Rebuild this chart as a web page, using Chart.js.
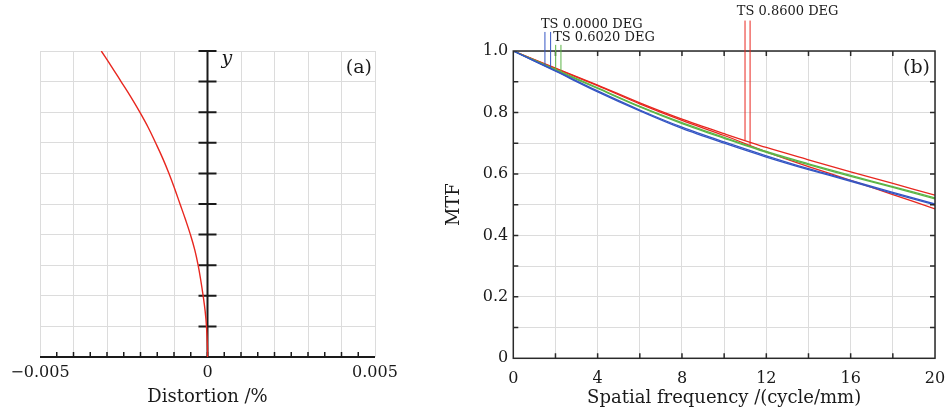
<!DOCTYPE html>
<html>
<head>
<meta charset="utf-8">
<script src="https://cdn.jsdelivr.net/npm/chart.js@4"></script>
<style>
  body { margin: 0; background: #fff; width: 949px; height: 415px; position: relative; overflow: hidden; }
  #distChart { position: absolute; left: 0; top: 0; }
  #mtfChart { position: absolute; left: 420px; top: 0; }
</style>
</head>
<body>
<canvas id="distChart" width="420" height="415"></canvas>
<canvas id="mtfChart" width="529" height="415"></canvas>
<script>
// (a) distortion vs normalised field height
const fieldY = [0, 0.03, 0.1, 0.15, 0.2, 0.25, 0.3, 0.35, 0.4, 0.45, 0.5, 0.55, 0.6, 0.65, 0.7, 0.75, 0.8, 0.85, 0.9, 0.95, 1.0];
const distortion = [0, 0, -0.00003, -0.00007, -0.00013, -0.0002, -0.00028, -0.00038, -0.00051, -0.00066, -0.00082, -0.00098,
    -0.00115, -0.00134, -0.00155, -0.00177, -0.00202, -0.00229, -0.00258, -0.00287, -0.00317];
const distTickValues = [-0.005, 0, 0.005];
const distTickLabels = ['\u22120.005', '0', '0.005'];

// (b) MTF vs spatial frequency
const freq = [0, 2, 4, 6, 8, 10, 12, 14, 16, 18, 20];
const mtfBlueT = [1.0, 0.934, 0.867, 0.805, 0.748, 0.700, 0.655, 0.614, 0.576, 0.537, 0.499];
const mtfBlueS = [1.0, 0.936, 0.870, 0.808, 0.752, 0.704, 0.659, 0.617, 0.579, 0.540, 0.502];
const mtfGreenT = [1.0, 0.938, 0.878, 0.818, 0.764, 0.716, 0.670, 0.630, 0.592, 0.556, 0.519];
const mtfGreenS = [1.0, 0.940, 0.880, 0.820, 0.767, 0.719, 0.673, 0.633, 0.595, 0.559, 0.522];
const mtfRedT = [1.0, 0.944, 0.889, 0.831, 0.778, 0.731, 0.686, 0.646, 0.607, 0.569, 0.531];
const mtfRedS = [1.0, 0.943, 0.887, 0.828, 0.774, 0.725, 0.672, 0.624, 0.579, 0.533, 0.486];
const freqTickValues = [0, 4, 8, 12, 16, 20];
const mtfTickValues = [0, 0.2, 0.4, 0.6, 0.8, 1.0];
const mtfTickLabels = ['0', '0.2', '0.4', '0.6', '0.8', '1.0'];

// field labels and where their pointer lines sit (data units)
const fieldLabels = ['TS 0.0000 DEG', 'TS 0.6020 DEG', 'TS 0.8600 DEG'];
const labelFreq = [1.31, 1.89, 10.6];
const labelMtf = [1.085, 1.042, 1.127];
const markerFreq = [[1.50, 1.77], [2.01, 2.26], [10.99, 11.23]];
const markerTop = [1.062, 1.020, 1.099];

const blue = '#3556c4';
const green = '#5cb547';
const red = '#e8271f';
const gridGray = '#dcdcdc';
const ink = '#1a1a1a';

Chart.defaults.font.family = "'DejaVu Serif', serif";
Chart.defaults.color = ink;

function interp(xs, ys, x) {
    for (let i = 1; i < xs.length; i++) {
        if (x <= xs[i]) {
            const t = (x - xs[i - 1]) / (xs[i] - xs[i - 1]);
            return ys[i - 1] + t * (ys[i] - ys[i - 1]);
        }
    }
    return ys[ys.length - 1];
}

function pickLabel(values, labels, v) {
    const i = values.findIndex(t => Math.abs(t - v) < 1e-9);
    return i < 0 ? '' : labels[i];
}

// keep the plot box where the layout padding puts it
function fixHeight(h) {
    return s => { s.height = h; s.paddingLeft = 0; s.paddingRight = 0; };
}

// black axes, tick marks and panel letter for (a)
const distAxes = {
    id: 'distAxes',
    beforeDatasetsDraw(chart) {
        const { ctx, chartArea: a, scales: { x, y } } = chart;
        const x0 = x.getPixelForValue(0);
        ctx.save();
        ctx.strokeStyle = ink;
        ctx.lineWidth = 2;
        ctx.beginPath();
        ctx.moveTo(a.left, a.bottom);
        ctx.lineTo(a.right, a.bottom);
        ctx.moveTo(x0, a.bottom);
        ctx.lineTo(x0, a.top);
        for (let k = 1; k <= 10; k++) {
            const py = y.getPixelForValue(k / 10);
            ctx.moveTo(x0 - 9, py);
            ctx.lineTo(x0 + 9, py);
        }
        ctx.stroke();
        ctx.lineWidth = 1.5;
        ctx.beginPath();
        for (let k = -9; k <= 9; k++) {
            const px = x.getPixelForValue(k * 0.0005);
            ctx.moveTo(px, a.bottom);
            ctx.lineTo(px, a.bottom - 5);
        }
        ctx.stroke();
        ctx.restore();
    },
    afterDraw(chart) {
        const { ctx, chartArea: a, scales: { x } } = chart;
        ctx.save();
        ctx.fillStyle = ink;
        ctx.textBaseline = 'middle';
        ctx.font = "italic 19px 'DejaVu Serif'";
        ctx.textAlign = 'left';
        ctx.fillText('y', x.getPixelForValue(0) + 14, a.top + 8);
        ctx.font = "19px 'DejaVu Serif'";
        ctx.textAlign = 'right';
        ctx.fillText('(a)', a.right - 3, a.top + 17);
        ctx.restore();
    }
};

new Chart(document.getElementById('distChart'), {
    type: 'scatter',
    data: {
        datasets: [{
            data: fieldY.map((v, i) => ({ x: distortion[i], y: v })),
            showLine: true,
            borderColor: red,
            borderWidth: 1.4,
            pointRadius: 0,
            tension: 0.4
        }]
    },
    options: {
        responsive: false,
        animation: false,
        layout: { padding: { left: 40, right: 45, top: 51, bottom: 0 } },
        plugins: { legend: { display: false }, tooltip: { enabled: false } },
        scales: {
            x: {
                type: 'linear',
                min: -0.005,
                max: 0.005,
                afterFit: fixHeight(58),
                ticks: {
                    stepSize: 0.001,
                    autoSkip: false,
                    maxRotation: 0,
                    padding: 6,
                    font: { size: 16 },
                    callback: v => pickLabel(distTickValues, distTickLabels, v)
                },
                grid: { color: gridGray, drawTicks: false },
                border: { display: false },
                title: { display: true, text: 'Distortion /%', font: { size: 18 }, padding: { top: 0, bottom: 7 } }
            },
            y: {
                type: 'linear',
                min: 0,
                max: 1,
                afterFit: s => { s.width = 0; },
                ticks: { display: false, stepSize: 0.1 },
                grid: { color: gridGray, drawTicks: false },
                border: { display: false }
            }
        }
    },
    plugins: [distAxes]
});

// frame, inward ticks, field markers and panel letter for (b)
const mtfFrame = {
    id: 'mtfFrame',
    afterDatasetsDraw(chart) {
        const { ctx, chartArea: a, scales: { x, y } } = chart;
        ctx.save();
        ctx.strokeStyle = '#2a2a2a';
        ctx.lineWidth = 1.5;
        ctx.strokeRect(a.left, a.top, a.right - a.left, a.bottom - a.top);
        ctx.beginPath();
        for (let k = 1; k < 10; k++) {
            const py = y.getPixelForValue(k / 10);
            ctx.moveTo(a.left, py);
            ctx.lineTo(a.left + 5, py);
            ctx.moveTo(a.right, py);
            ctx.lineTo(a.right - 5, py);
        }
        for (let f = 2; f < 20; f += 2) {
            const px = x.getPixelForValue(f);
            ctx.moveTo(px, a.bottom);
            ctx.lineTo(px, a.bottom - 5);
            ctx.moveTo(px, a.top);
            ctx.lineTo(px, a.top + 5);
        }
        ctx.stroke();

        // pointer lines from the field labels down to their curves
        const pairs = [[mtfBlueT, mtfBlueS, blue], [mtfGreenT, mtfGreenS, green], [mtfRedT, mtfRedS, red]];
        ctx.lineWidth = 1;
        pairs.forEach((p, i) => {
            ctx.strokeStyle = p[2];
            markerFreq[i].forEach((f, j) => {
                const px = x.getPixelForValue(f);
                ctx.beginPath();
                ctx.moveTo(px, y.getPixelForValue(markerTop[i]));
                ctx.lineTo(px, y.getPixelForValue(interp(freq, p[j], f)));
                ctx.stroke();
            });
        });

        ctx.fillStyle = ink;
        ctx.textBaseline = 'middle';
        ctx.textAlign = 'left';
        ctx.font = "13px 'DejaVu Serif'";
        fieldLabels.forEach((t, i) => {
            ctx.fillText(t, x.getPixelForValue(labelFreq[i]), y.getPixelForValue(labelMtf[i]));
        });
        ctx.font = "19px 'DejaVu Serif'";
        ctx.textAlign = 'right';
        ctx.fillText('(b)', a.right - 5, a.top + 17);
        ctx.restore();
    }
};

function mtfLine(values, color) {
    return {
        data: freq.map((f, i) => ({ x: f, y: values[i] })),
        showLine: true,
        borderColor: color,
        borderWidth: 1.3,
        pointRadius: 0,
        tension: 0.3
    };
}

new Chart(document.getElementById('mtfChart'), {
    type: 'scatter',
    data: {
        datasets: [
            mtfLine(mtfBlueS, blue),
            mtfLine(mtfBlueT, blue),
            mtfLine(mtfGreenS, green),
            mtfLine(mtfGreenT, green),
            mtfLine(mtfRedS, red),
            mtfLine(mtfRedT, red)
        ]
    },
    options: {
        responsive: false,
        animation: false,
        layout: { padding: { left: 0, right: 14, top: 51, bottom: 0 } },
        plugins: { legend: { display: false }, tooltip: { enabled: false } },
        scales: {
            x: {
                type: 'linear',
                min: 0,
                max: 20,
                afterFit: fixHeight(56.7),
                ticks: {
                    stepSize: 2,
                    autoSkip: false,
                    maxRotation: 0,
                    padding: 11,
                    font: { size: 16 },
                    callback: v => pickLabel(freqTickValues, freqTickValues.map(String), v)
                },
                grid: { color: gridGray, drawTicks: false },
                border: { display: false },
                title: { display: true, text: 'Spatial frequency /(cycle/mm)', font: { size: 18 }, padding: { top: 0, bottom: 6 } }
            },
            y: {
                type: 'linear',
                min: 0,
                max: 1,
                afterFit: s => { s.width = 93.3; },
                ticks: {
                    stepSize: 0.1,
                    autoSkip: false,
                    padding: 5,
                    font: { size: 16 },
                    callback: v => pickLabel(mtfTickValues, mtfTickLabels, v)
                },
                grid: { color: gridGray, drawTicks: false },
                border: { display: false },
                title: { display: true, text: 'MTF', font: { size: 18 }, padding: { top: 24, bottom: 0 } }
            }
        }
    },
    plugins: [mtfFrame]
});
</script>
</body>
</html>
